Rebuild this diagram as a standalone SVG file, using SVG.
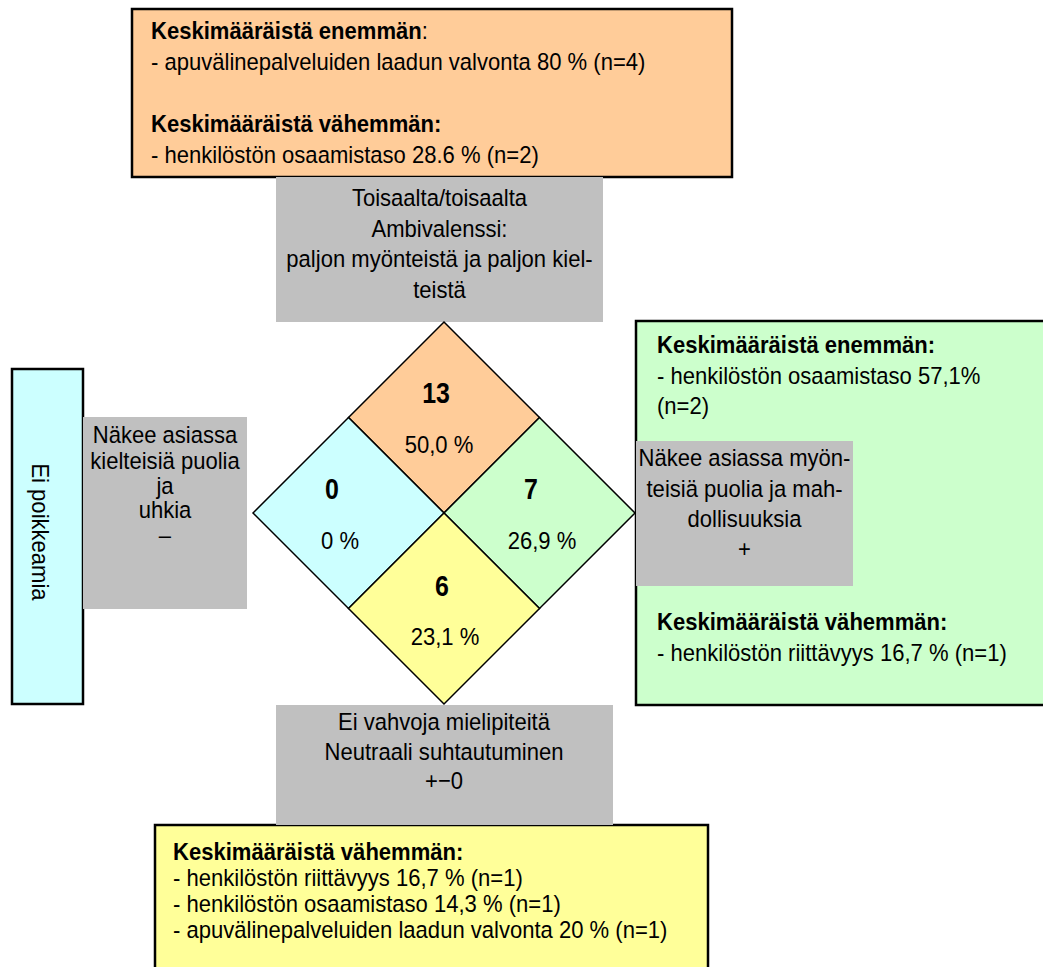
<svg xmlns="http://www.w3.org/2000/svg" width="1043" height="967" viewBox="0 0 1043 967">
<style>
text{font-family:"Liberation Sans",Arial,sans-serif;font-size:24.5px;fill:#000}
.b{font-weight:bold}
.c{text-anchor:middle}
.num{font-weight:bold;font-size:29px;text-anchor:middle}
.box{stroke:#000;stroke-width:2.5}
.gray{fill:#C0C0C0}
.q{stroke:#000;stroke-width:1.5;stroke-linejoin:miter}
</style>
<rect width="1043" height="967" fill="#fff"/>
<g id="top-box">
<rect class="box" x="132" y="9" width="600" height="168" fill="#FFCC99"/>
<g transform="translate(151,0) scale(0.9,1)">
<text x="0" y="39"><tspan class="b">Keskimääräistä enemmän</tspan>:</text>
<text x="0" y="70">- apuvälinepalveluiden laadun valvonta 80 % (n=4)</text>
<text x="0" y="132" class="b">Keskimääräistä vähemmän:</text>
<text x="0" y="163">- henkilöstön osaamistaso 28.6 % (n=2)</text>
</g>
</g>
<g id="right-box">
<rect class="box" x="636" y="321" width="420" height="384" fill="#CCFFCC"/>
<g transform="translate(657,0) scale(0.9,1)">
<text x="0" y="353" class="b">Keskimääräistä enemmän:</text>
<text x="0" y="384">- henkilöstön osaamistaso 57,1%</text>
<text x="0" y="414">(n=2)</text>
<text x="0" y="630" class="b">Keskimääräistä vähemmän:</text>
<text x="0" y="661">- henkilöstön riittävyys 16,7 % (n=1)</text>
</g>
</g>
<g id="left-box">
<rect class="box" x="12" y="369" width="71" height="335" fill="#CCFFFF"/>
<text class="c" transform="translate(32,532) rotate(90) scale(0.9,1)">Ei poikkeamia</text>
</g>
<g id="bottom-box">
<rect class="box" x="155" y="825" width="553" height="160" fill="#FFFF99"/>
<g transform="translate(173,0) scale(0.9,1)">
<text x="0" y="860" class="b">Keskimääräistä vähemmän:</text>
<text x="0" y="886">- henkilöstön riittävyys 16,7 % (n=1)</text>
<text x="0" y="912">- henkilöstön osaamistaso 14,3 % (n=1)</text>
<text x="0" y="938">- apuvälinepalveluiden laadun valvonta 20 % (n=1)</text>
</g>
</g>
<g id="ambivalent">
<rect class="gray" x="276" y="177" width="327" height="145"/>
<g transform="translate(439.5,0) scale(0.9,1)">
<text class="c" x="0" y="206">Toisaalta/toisaalta</text>
<text class="c" x="0" y="237">Ambivalenssi:</text>
<text class="c" x="0" y="267">paljon myönteistä ja paljon kiel-</text>
<text class="c" x="0" y="298">teistä</text>
</g>
</g>
<g id="neutral">
<rect class="gray" x="276" y="705" width="337" height="120"/>
<g transform="translate(444,0) scale(0.9,1)">
<text class="c" x="0" y="730">Ei vahvoja mielipiteitä</text>
<text class="c" x="0" y="760">Neutraali suhtautuminen</text>
<text class="c" x="0" y="789">+−0</text>
</g>
</g>
<g id="negative">
<rect class="gray" x="83" y="417" width="164" height="192"/>
<g transform="translate(165,0) scale(0.9,1)">
<text class="c" x="0" y="443">Näkee asiassa</text>
<text class="c" x="0" y="469">kielteisiä puolia</text>
<text class="c" x="0" y="494">ja</text>
<text class="c" x="0" y="518">uhkia</text>
<text class="c" x="0" y="543">–</text>
</g>
</g>
<g id="diamond">
<polygon class="q" fill="#FFCC99" points="444,322 539.5,417.5 444,513 348.5,417.5"/>
<polygon class="q" fill="#CCFFFF" points="348.5,417.5 444,513 348.5,608.5 253,513"/>
<polygon class="q" fill="#CCFFCC" points="539.5,417.5 635,513 539.5,608.5 444,513"/>
<polygon class="q" fill="#FFFF99" points="444,513 539.5,608.5 444,704 348.5,608.5"/>
<text class="num" transform="translate(436,403) scale(0.86,1)">13</text>
<text class="c" transform="translate(439,453) scale(0.9,1)">50,0 %</text>
<text class="num" transform="translate(332,499) scale(0.86,1)">0</text>
<text class="c" transform="translate(340,549) scale(0.9,1)">0 %</text>
<text class="num" transform="translate(531,499) scale(0.86,1)">7</text>
<text class="c" transform="translate(542,549) scale(0.9,1)">26,9 %</text>
<text class="num" transform="translate(442,596) scale(0.86,1)">6</text>
<text class="c" transform="translate(445,645) scale(0.9,1)">23,1 %</text>
</g>
<g id="positive">
<rect class="gray" x="636" y="441" width="217" height="145"/>
<g transform="translate(744.5,0) scale(0.9,1)">
<text class="c" x="0" y="466">Näkee asiassa myön-</text>
<text class="c" x="0" y="497">teisiä puolia ja mah-</text>
<text class="c" x="0" y="527">dollisuuksia</text>
<text class="c" x="0" y="557">+</text>
</g>
</g>
<g id="connectors"></g>
</svg>
